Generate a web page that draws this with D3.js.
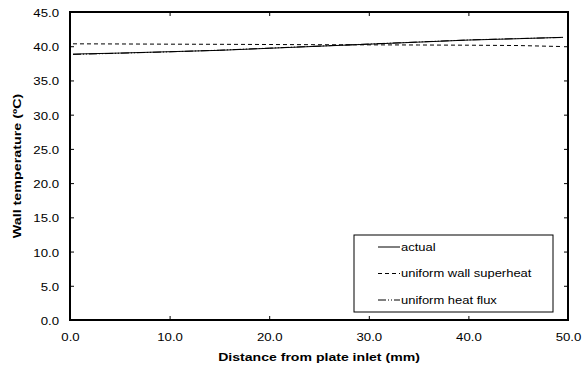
<!DOCTYPE html>
<html>
<head>
<meta charset="utf-8">
<script src="https://cdn.jsdelivr.net/npm/d3@7"></script>
<style>
  body { margin: 0; background: #fff; }
  svg { font-family: "Liberation Sans", Arial, sans-serif; }
</style>
</head>
<body>
<script>
const xValues = [0.3, 5, 10, 15, 20, 25, 30, 35, 40, 45, 49.5];
const actual = [38.85, 39.0, 39.2, 39.4, 39.7, 40.0, 40.3, 40.6, 40.9, 41.1, 41.3];
const uniformSuperheat = [40.35, 40.33, 40.3, 40.28, 40.25, 40.22, 40.2, 40.18, 40.15, 40.1, 39.95];
const uniformFlux = [38.8, 38.98, 39.18, 39.42, 39.72, 40.02, 40.32, 40.62, 40.92, 41.12, 41.28];
const xTicks = [0, 10, 20, 30, 40, 50];
const yTicks = [0, 5, 10, 15, 20, 25, 30, 35, 40, 45];

const series = [
  { name: "actual", values: actual, dash: null },
  { name: "uniform wall superheat", values: uniformSuperheat, dash: "4,3" },
  { name: "uniform heat flux", values: uniformFlux, dash: "8,2,1,2,1,2" },
];

const width = 582, height = 370;
const margin = { left: 70, right: 14, top: 12, bottom: 50 };
// the original text is rendered wide, so stretch it along the baseline
const stretch = 1.2;

const svg = d3.select("body").append("svg")
  .attr("width", width)
  .attr("height", height);

const x = d3.scaleLinear().domain([0, 50]).range([margin.left, width - margin.right]);
const y = d3.scaleLinear().domain([0, 45]).range([height - margin.bottom, margin.top]);

const fmt = d3.format(".1f");

// ticks on every side, pointing inward
svg.append("g")
  .attr("transform", `translate(0,${y(0)})`)
  .call(d3.axisBottom(x).tickValues(xTicks).tickSizeInner(-4).tickSizeOuter(0).tickPadding(13).tickFormat(fmt))
  .call(g => g.select(".domain").remove())
  .call(g => g.selectAll("text")
    .attr("font-size", 11)
    .attr("font-family", "Liberation Sans, Arial, sans-serif")
    .attr("transform", `scale(${stretch},1)`));

svg.append("g")
  .attr("transform", `translate(0,${y(45)})`)
  .call(d3.axisTop(x).tickValues(xTicks).tickSizeInner(-4).tickSizeOuter(0).tickFormat(""))
  .call(g => g.select(".domain").remove());

svg.append("g")
  .attr("transform", `translate(${x(0)},0)`)
  .call(d3.axisLeft(y).tickValues(yTicks).tickSizeInner(-4).tickSizeOuter(0).tickPadding(11).tickFormat(fmt))
  .call(g => g.select(".domain").remove())
  .call(g => g.selectAll("text")
    .attr("font-size", 11)
    .attr("font-family", "Liberation Sans, Arial, sans-serif")
    .attr("x", 0)
    .attr("transform", `translate(-11,1) scale(${stretch},1)`));

svg.append("g")
  .attr("transform", `translate(${x(50)},0)`)
  .call(d3.axisRight(y).tickValues(yTicks).tickSizeInner(-4).tickSizeOuter(0).tickFormat(""))
  .call(g => g.select(".domain").remove());

// frame
svg.append("rect")
  .attr("x", x(0)).attr("y", y(45))
  .attr("width", x(50) - x(0)).attr("height", y(0) - y(45))
  .attr("fill", "none").attr("stroke", "#000").attr("stroke-width", 2);

const line = d3.line()
  .x((d, i) => x(xValues[i]))
  .y(d => y(d));

svg.selectAll(".series")
  .data(series)
  .join("path")
  .attr("class", "series")
  .attr("d", d => line(d.values))
  .attr("fill", "none")
  .attr("stroke", "#000")
  .attr("stroke-width", 1)
  .attr("stroke-dasharray", d => d.dash);

// axis titles
svg.append("text")
  .attr("transform", `translate(${(x(0) + x(50)) / 2},361) scale(1.28,1)`)
  .attr("text-anchor", "middle")
  .attr("font-size", 11)
  .attr("font-weight", "bold")
  .text("Distance from plate inlet (mm)");

svg.append("text")
  .attr("transform", `translate(21,${(y(0) + y(45)) / 2}) rotate(-90) scale(1.3,1)`)
  .attr("text-anchor", "middle")
  .attr("font-size", 11)
  .attr("font-weight", "bold")
  .text("Wall temperature (ºC)");

// legend
const legend = svg.append("g");
legend.append("rect")
  .attr("x", 354).attr("y", 235)
  .attr("width", 199).attr("height", 77)
  .attr("fill", "#fff").attr("stroke", "#000").attr("stroke-width", 1);

const rows = legend.selectAll(".row")
  .data(series)
  .join("g")
  .attr("transform", (d, i) => `translate(378,${247 + i * 26.5})`);

rows.append("line")
  .attr("x1", 0).attr("x2", 22)
  .attr("stroke", "#000")
  .attr("stroke-dasharray", d => d.dash);

rows.append("text")
  .attr("transform", `translate(23,0) scale(1.18,1)`)
  .attr("dy", "0.35em")
  .attr("font-size", 11)
  .text(d => d.name);
</script>
</body>
</html>
